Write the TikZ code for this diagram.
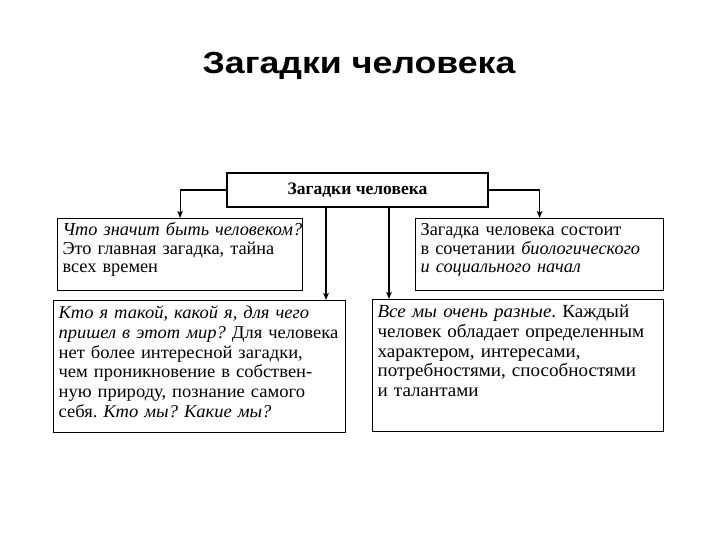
\documentclass[tikz,border=0pt]{standalone}
\usepackage{fontspec}
\setmainfont{Liberation Serif}
\newfontfamily\bodyfont{Liberation Serif}[FakeStretch=1.03]
\newfontfamily\titlefont{Liberation Sans}[FakeStretch=1.17]
\usetikzlibrary{arrows.meta,positioning,calc}
\frenchspacing
\newcommand{\lines}[1]{\begin{tabular}[t]{@{}l@{}}#1\end{tabular}}

\begin{document}
\begin{tikzpicture}[
		x=1pt, y=-1pt,
		card/.style={draw, line width=1.2pt, anchor=north west, align=left, inner xsep=5pt, inner ysep=4pt, text height=13pt},
		upper/.style={card, text depth=51pt, font=\fontsize{18.3}{18.5}\selectfont},
		lower/.style={card, text depth=110pt, text height=14pt, font=\bodyfont\fontsize{18.5}{19.7}\selectfont},
		head/.style={draw, line width=1.2pt, minimum width=261pt, minimum height=34pt, font=\fontsize{17.5}{20}\selectfont\bfseries},
		title/.style={font=\titlefont\fontsize{30.5}{36}\selectfont\bfseries},
		barrow/.style={-{Stealth[length=7pt, width=5.5pt, inset=1.5pt]}, line width=1.1pt}
	]
		\useasboundingbox (0,0) rectangle (720,540);

		\node[title] (title) at (359,66) {Загадки человека};

		\node[head] (top) at (357.5,190) {Загадки человека};

		\node[upper, text width=235pt]
			(qa) at (57,218)
			{\lines{\textit{Что значит быть человеком?}\\Это главная загадка, тайна\\всех времен}};
		\node[upper, text width=238pt]
			(qb) at (415,218)
			{\lines{Загадка человека состоит\\в сочетании \textit{биологического}\\\textit{и социального начал}}};
		\node[lower, text width=282pt, font=\bodyfont\fontsize{18}{19.7}\selectfont]
			(qc) at (53,300)
			{\lines{\textit{Кто я такой, какой я, для чего}\\\textit{пришел в этот мир?} Для человека\\нет более интересной загадки,\\чем проникновение в собствен-\\ную природу, познание самого\\себя. \textit{Кто мы? Какие мы?}}};
		\node[lower, text width=281pt]
			(qd) at (372,299)
			{\lines{\textit{Все мы очень разные}. Каждый\\человек обладает определенным\\характером, интересами,\\потребностями, способностями\\и талантами}};

		\draw[barrow] (top.west) -| (qa.north);
		\draw[barrow] (top.east) -| (qb.north);
		\draw[barrow] ([xshift=-31.5pt]top.south) -- ([xshift=-31.5pt]top.south |- qc.north);
		\draw[barrow] ([xshift=31.5pt]top.south) -- ([xshift=31.5pt]top.south |- qd.north);
	\end{tikzpicture}
\end{document}
